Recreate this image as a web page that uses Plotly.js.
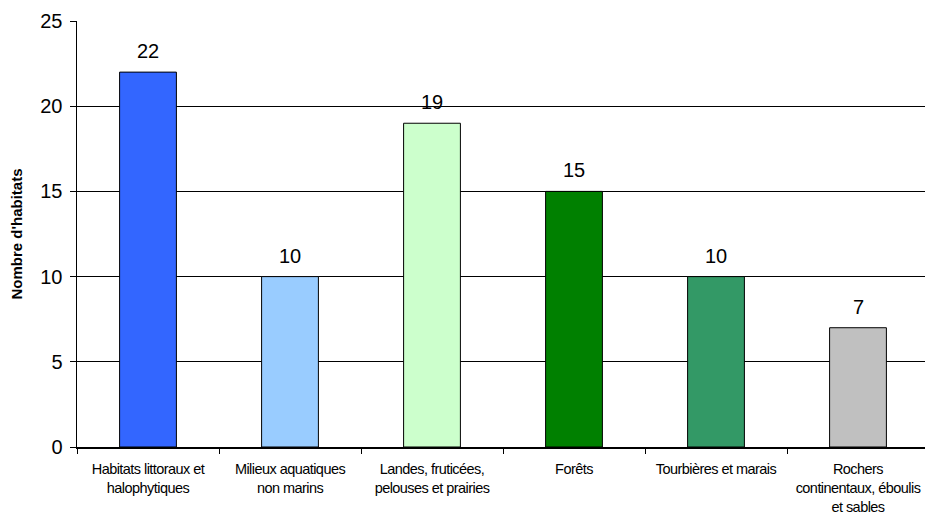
<!DOCTYPE html>
<html><head><meta charset="utf-8">
<script src="https://cdn.plot.ly/plotly-3.0.1.min.js"></script>
<style>html,body{margin:0;padding:0;overflow:hidden;background:#fff}#c{width:935px;height:514px}
.xtick text{letter-spacing:-0.55px}</style>
</head><body><div id="c"></div>
<script>
const categories = ["Habitats littoraux et<br>halophytiques","Milieux aquatiques<br>non marins","Landes, fruticées,<br>pelouses et prairies","Forêts","Tourbières et marais","Rochers<br>continentaux, éboulis<br>et sables"];
const values = [22, 10, 19, 15, 10, 7];
const colors = ["#3366FF","#99CCFF","#CCFFCC","#008000","#339966","#C0C0C0"];

const trace = {
  type: "bar", x: categories, y: values,
  marker: {color: colors, line: {color: "#000", width: 1}},
  width: 0.4, hoverinfo: "none"
};
const annotations = values.map((v, i) => ({
  x: categories[i], y: v, text: String(v), showarrow: false,
  yanchor: "bottom", yshift: 8, font: {family: "Arial, Liberation Sans, sans-serif", size: 20, color: "#000"}
}));
const layout = {
  width: 935, height: 514,
  margin: {l: 77, r: 6, t: 21, b: 67},
  paper_bgcolor: "#fff", plot_bgcolor: "#fff",
  showlegend: false,
  font: {family: "Arial, Liberation Sans, sans-serif", color: "#000"},
  xaxis: {
    type: "category", tickson: "boundaries", ticks: "outside", ticklen: 5, tickcolor: "#000",
    showline: true, linecolor: "#000", linewidth: 1.5, showgrid: false, tickangle: 0,
    tickfont: {size: 14.5, color: "#000"}, ticklabelstandoff: 8, fixedrange: true
  },
  yaxis: {
    range: [0, 25], dtick: 5, ticks: "outside", ticklen: 6, tickcolor: "#000",
    showline: true, linecolor: "#000", linewidth: 1.5,
    showgrid: true, gridcolor: "#000", gridwidth: 1, zeroline: false,
    tickfont: {size: 20, color: "#000"}, ticklabelstandoff: 3,
    title: {text: "<b>Nombre d'habitats</b>", font: {size: 15, color: "#000"}, standoff: 14},
    fixedrange: true
  },
  annotations: annotations,
  bargap: 0.6
};
Plotly.newPlot("c", [trace], layout, {displayModeBar: false, staticPlot: true});
</script></body></html>
